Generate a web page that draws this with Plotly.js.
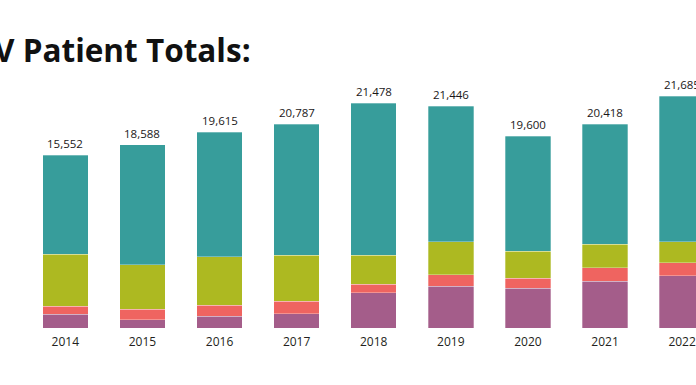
<!DOCTYPE html>
<html>
<head>
<meta charset="utf-8">
<script src="https://cdn.plot.ly/plotly-3.0.1.min.js"></script>
<style>html,body{margin:0;padding:0;background:#fff;}#chart{width:696px;height:385px;}</style>
</head>
<body>
<div id="chart"></div>
<script>
var years = ["2014","2015","2016","2017","2018","2019","2020","2021","2022"];
var totalLabels = ["15,552","18,588","19,615","20,787","21,478","21,446","19,600","20,418","21,685"];
// segment values (bottom to top)
var purpleVals = [1400, 830, 1160, 1430, 3530, 4200, 3960, 4660, 5230];
var redVals    = [800, 1030, 1100, 1270, 870, 1130, 1000, 1370, 1300];
var oliveVals  = [5200, 4470, 4870, 4600, 2900, 3300, 2700, 2330, 2100];
var tealVals   = [9900, 12000, 12470, 13060, 15200, 13530, 11500, 12040, 14530];
var titleText = "V Patient Totals:";

var colors = {purple:"#A45D8A", red:"#EF6460", olive:"#ADB921", teal:"#379D9B"};
var font = "Open Sans, Noto Sans, sans-serif";

function seg(vals, color){
  return {type:"bar", x:years, y:vals, marker:{color:color, line:{color:"rgba(255,255,255,0.6)", width:0.5}},
          hoverinfo:"skip", showlegend:false};
}
var data = [seg(purpleVals, colors.purple), seg(redVals, colors.red), seg(oliveVals, colors.olive), seg(tealVals, colors.teal)];

var annotations = years.map(function(y, i){
  var s = purpleVals[i] + redVals[i] + oliveVals[i] + tealVals[i];
  return {x:i, y:s, xref:"x", yref:"y", text:totalLabels[i], showarrow:false, yanchor:"bottom",
          yshift:2, font:{family:font, size:11.5, color:"#1A1718"}};
});
annotations.push({xref:"paper", yref:"paper", x:-0.011, y:0.966, xanchor:"left", yanchor:"middle",
  text:"<b>"+titleText+"</b>", showarrow:false, font:{family:font, size:31.5, color:"#111111"}});

var layout = {
  width:696, height:385,
  margin:{l:0, r:0, t:40, b:57},
  paper_bgcolor:"#ffffff", plot_bgcolor:"#ffffff",
  barmode:"stack", bargap:0.41,
  xaxis:{type:"category", range:[-0.847, 8.18], showgrid:false, zeroline:false, showline:false,
         ticks:"", ticklabelstandoff:5, tickfont:{family:font, size:12, color:"#231F20"}},
  yaxis:{range:[0, 28800], visible:false, showgrid:false, zeroline:false},
  annotations:annotations
};
Plotly.newPlot("chart", data, layout, {displayModeBar:false, staticPlot:true});
</script>
</body>
</html>
